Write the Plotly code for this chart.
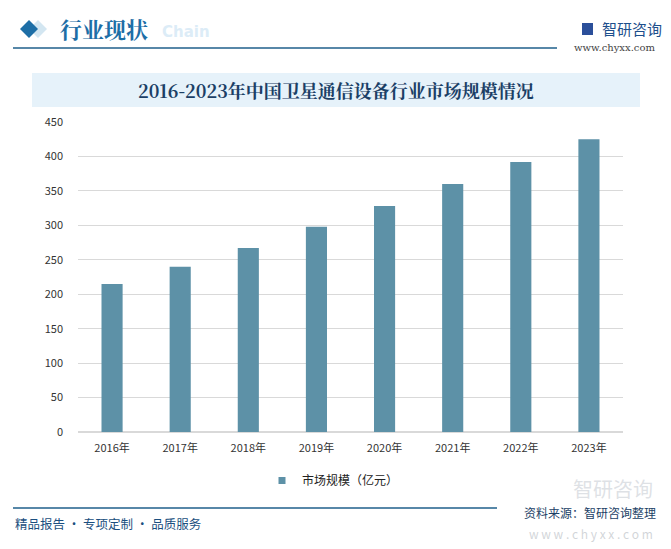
import plotly.graph_objects as go

years = ["2016年", "2017年", "2018年", "2019年", "2020年", "2021年", "2022年", "2023年"]
market_size = [215, 240, 267, 298, 328, 360, 392, 425]
y_ticks = [0, 50, 100, 150, 200, 250, 300, 350, 400, 450]
series_name = "市场规模（亿元）"
bar_color = "#5d91a7"

fig = go.Figure()
fig.add_trace(go.Bar(
    x=years, y=market_size, name=series_name, showlegend=False,
    marker=dict(color=bar_color, line=dict(width=0)),
))
# legend entry with a small square symbol
fig.add_trace(go.Scatter(
    x=[None], y=[None], mode="markers", name=series_name,
    marker=dict(symbol="square", size=7, color=bar_color),
))

W, H = 671, 549
pl, pr, pt, pb = 78, 48, 122, 117
pw, ph = W - pl - pr, H - pt - pb
def fx(x): return (x - pl) / pw
def fy(y): return (H - pb - y) / ph

fig.update_layout(
    width=W, height=H,
    margin=dict(l=pl, r=pr, t=pt, b=pb),
    paper_bgcolor="white", plot_bgcolor="white",
    bargap=0.69,
    font=dict(family="Noto Sans CJK SC, sans-serif", color="#333333", size=11),
    showlegend=True,
    legend=dict(orientation="h", x=fx(262), xanchor="left", y=fy(466), yanchor="top",
                font=dict(size=12, color="#222222"), itemwidth=30),
    xaxis=dict(showgrid=False, showline=False, ticks="", tickfont=dict(size=11, color="#333333"),
               ticklabelstandoff=8),
    yaxis=dict(range=[0, 450], tickvals=y_ticks, showgrid=True, gridcolor="#d9d9d9",
               gridwidth=1, zeroline=True, zerolinecolor="#d9d9d9", ticks="",
               tickfont=dict(size=11, color="#333333"), ticklabelstandoff=14),
)

def diamond(cx, cy, r, color):
    return dict(type="path", xref="paper", yref="paper",
                path=f"M {fx(cx-r)} {fy(cy)} L {fx(cx)} {fy(cy-r)} L {fx(cx+r)} {fy(cy)} L {fx(cx)} {fy(cy+r)} Z",
                fillcolor=color, line=dict(width=0), layer="above")

shapes = [
    diamond(38, 29, 9, "#d3e6f1"),
    diamond(29, 29, 9, "#1d6ea6"),
    dict(type="line", xref="paper", yref="paper", x0=fx(13), x1=fx(557), y0=fy(48), y1=fy(48),
         line=dict(color="#1f5f8b", width=1.5)),
    dict(type="rect", xref="paper", yref="paper", x0=fx(32), x1=fx(640), y0=fy(73), y1=fy(107),
         fillcolor="#e6f2fa", line=dict(width=0), layer="below"),
    dict(type="line", xref="paper", yref="paper", x0=fx(13), x1=fx(497), y0=fy(508), y1=fy(508),
         line=dict(color="#1f5f8b", width=1.5)),
    dict(type="rect", xref="paper", yref="paper", x0=fx(582), x1=fx(593), y0=fy(23), y1=fy(35),
         fillcolor="#2b4f9a", line=dict(width=0)),
]
fig.update_layout(shapes=shapes)

ann = [
    dict(text="<b>Chain</b>", x=fx(160), y=fy(32), xanchor="left", yanchor="middle",
         font=dict(size=15, color="#dcecf7", family="DejaVu Sans")),
    dict(text="<b>行业现状</b>", x=fx(58), y=fy(29), xanchor="left", yanchor="middle",
         font=dict(size=22, color="#1d6ea6", family="Noto Serif CJK SC, Noto Sans CJK SC")),
    dict(text="智研咨询", x=fx(600), y=fy(29), xanchor="left", yanchor="middle",
         font=dict(size=15, color="#1d4f8c")),
    dict(text="www.chyxx.com", x=fx(657), y=fy(47), xanchor="right", yanchor="middle",
         font=dict(size=10, color="#444444", family="DejaVu Serif")),
    dict(text="<b>2016-2023年中国卫星通信设备行业市场规模情况</b>", x=fx(336), y=fy(90),
         xanchor="center", yanchor="middle",
         font=dict(size=18, color="#1b3f66", family="Noto Serif CJK SC, DejaVu Serif")),
    dict(text="智研咨询", x=fx(655), y=fy(488), xanchor="right", yanchor="middle",
         font=dict(size=20, color="rgba(200,205,212,0.6)")),
    dict(text="w w w . c h y x x . c o m", x=fx(655), y=fy(533), xanchor="right", yanchor="middle",
         font=dict(size=12, color="rgba(190,195,200,0.7)")),
    dict(text="资料来源：智研咨询整理", x=fx(658), y=fy(512), xanchor="right", yanchor="middle",
         font=dict(size=12, color="#1b3f66")),
    dict(text="精品报告 · 专项定制 · 品质服务", x=fx(13), y=fy(523), xanchor="left", yanchor="middle",
         font=dict(size=12.5, color="#1b4f80")),
]
for a in ann:
    a.update(xref="paper", yref="paper", showarrow=False)
fig.update_layout(annotations=ann)

fig.write_html("out.html", config={"displayModeBar": False},
               post_script="document.body.style.margin='0';document.body.style.padding='0';")
